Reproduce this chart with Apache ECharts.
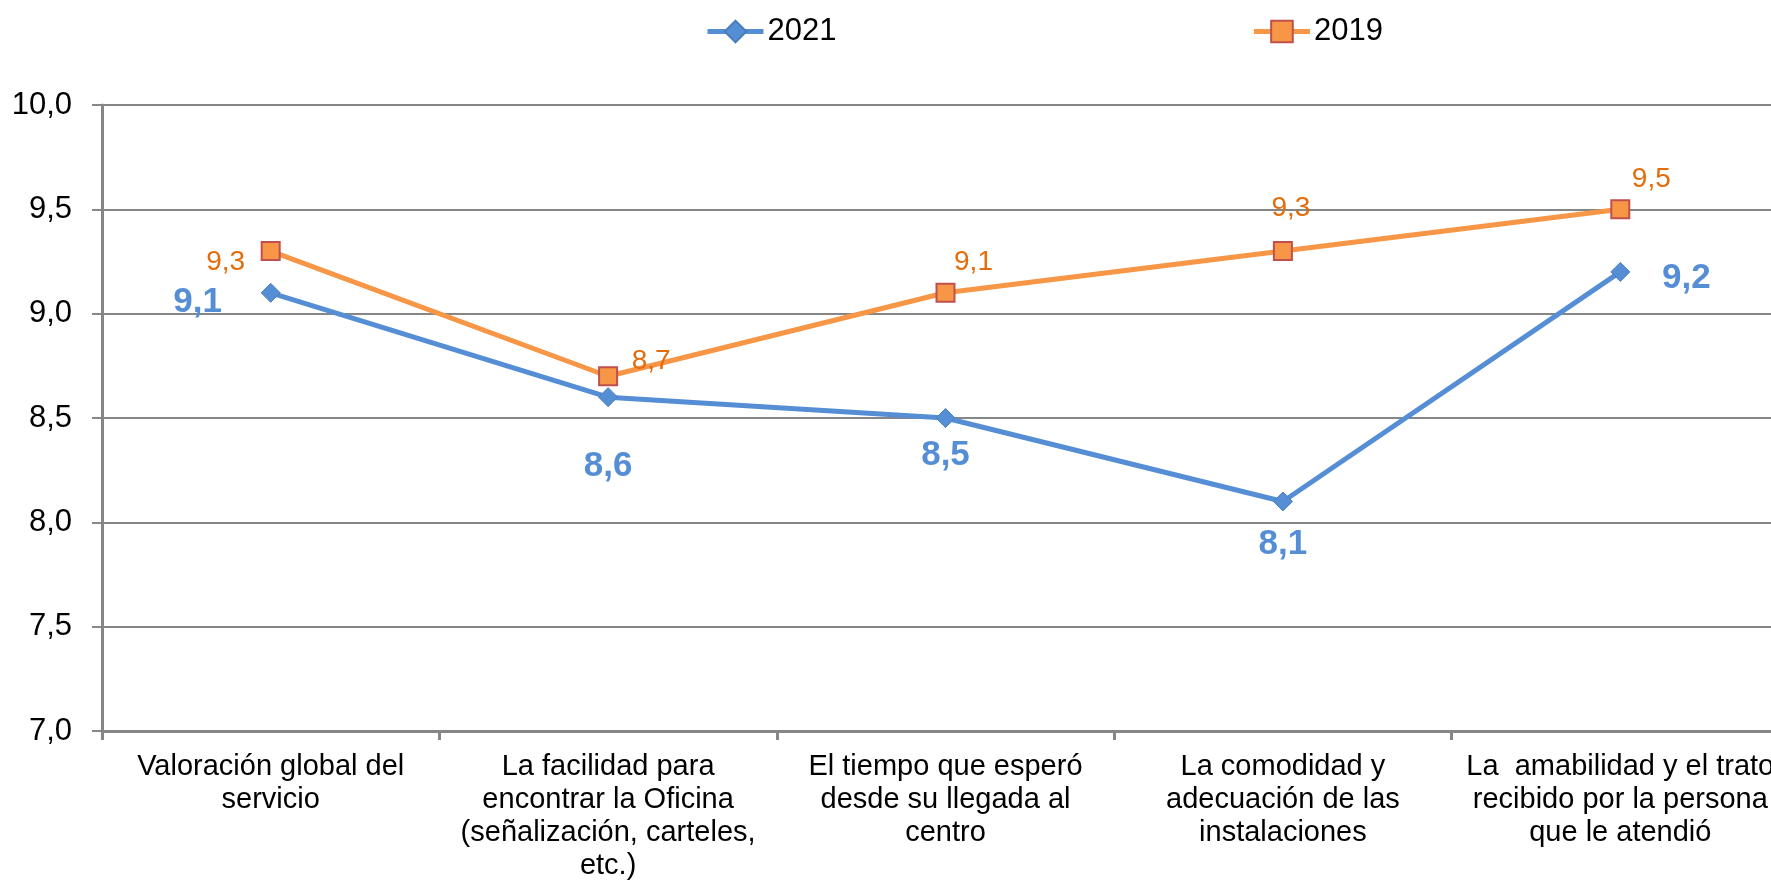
<!DOCTYPE html>
<html>
<head>
<meta charset="utf-8">
<title>Valoración del servicio 2021 vs 2019</title>
<script src="https://cdn.jsdelivr.net/npm/echarts@6/dist/echarts.min.js"></script>
<style>
  html, body { margin: 0; padding: 0; background: #ffffff; }
  #chart { width: 1771px; height: 881px; }
</style>
</head>
<body>
<div id="chart"></div>
<script>
// Categories and values
const categories = [
  'Valoración global del\nservicio',
  'La facilidad para\nencontrar la Oficina\n(señalización, carteles,\netc.)',
  'El tiempo que esperó\ndesde su llegada al\ncentro',
  'La comodidad y\nadecuación de las\ninstalaciones',
  'La  amabilidad y el trato\nrecibido por la persona\nque le atendió'
];
const values2021 = [9.1, 8.6, 8.5, 8.1, 9.2];
const values2019 = [9.3, 8.7, 9.1, 9.3, 9.5];
const yTicks = [7.0, 7.5, 8.0, 8.5, 9.0, 9.5, 10.0];

// Label placement around each marker (pixels)
const offsets2021 = [[-73, 10], [0, 69], [0, 37], [0, 43], [66, 6]];
const offsets2019 = [[-45, 11], [43, -15], [28, -31], [8, -43], [31, -30]];

const fmt = v => v.toFixed(1).replace('.', ',');

const chart = echarts.init(document.getElementById('chart'), null, { renderer: 'canvas' });

function withLabels(values, offsets) {
  return values.map((v, i) => ({ value: v, label: { offset: offsets[i] } }));
}

chart.setOption({
  animation: false,
  backgroundColor: '#ffffff',
  textStyle: { fontFamily: '"Liberation Sans", Arial, sans-serif' },
  legend: {
    left: 700,
    top: 11,
    itemWidth: 56,
    itemHeight: 27,
    itemGap: 415,
    lineStyle: { width: 5 },
    textStyle: {
      fontSize: 31,
      color: '#000000',
      padding: [0, 0, 0, -1]
    },
    data: ['2021', '2019']
  },
  grid: {
    left: 102, top: 105, bottom: 150, width: 1687,
    containLabel: false,
    outerBoundsMode: 'none'
  },
  xAxis: {
    type: 'category',
    boundaryGap: true,
    data: categories,
    axisLine: { show: true, lineStyle: { color: '#868686', width: 3 } },
    axisTick: { show: true, length: 9, alignWithLabel: false, lineStyle: { color: '#868686', width: 3 } },
    axisLabel: {
      interval: 0,
      margin: 19,
      fontSize: 29,
      lineHeight: 33,
      color: '#000000',
      align: 'center',
      verticalAlign: 'top'
    },
    splitLine: { show: false }
  },
  yAxis: {
    type: 'value',
    min: yTicks[0],
    max: yTicks[yTicks.length - 1],
    interval: 0.5,
    axisLine: { show: true, lineStyle: { color: '#868686', width: 3 } },
    axisTick: { show: true, length: 10, lineStyle: { color: '#868686', width: 2 } },
    axisLabel: {
      margin: 30,
      fontSize: 31,
      color: '#000000',
      formatter: v => fmt(v)
    },
    splitLine: { show: true, lineStyle: { color: '#868686', width: 2 } }
  },
  series: [
    {
      name: '2021',
      type: 'line',
      data: withLabels(values2021, offsets2021),
      symbol: 'diamond',
      symbolSize: 19,
      lineStyle: { color: '#558ED5', width: 5 },
      itemStyle: { color: '#558ED5', borderColor: '#4A7EBB', borderWidth: 1 },
      label: {
        show: true,
        position: 'inside',
        align: 'center',
        verticalAlign: 'middle',
        fontSize: 35,
        fontWeight: 'bold',
        color: '#558ED5',
        formatter: p => fmt(p.value)
      },
      z: 2
    },
    {
      name: '2019',
      type: 'line',
      data: withLabels(values2019, offsets2019),
      symbol: 'rect',
      symbolSize: 18,
      lineStyle: { color: '#F79646', width: 5 },
      itemStyle: { color: '#F79646', borderColor: '#C0504D', borderWidth: 2 },
      label: {
        show: true,
        position: 'inside',
        align: 'center',
        verticalAlign: 'middle',
        fontSize: 28,
        color: '#E46C0A',
        formatter: p => fmt(p.value)
      },
      z: 3
    }
  ]
});
</script>
</body>
</html>
